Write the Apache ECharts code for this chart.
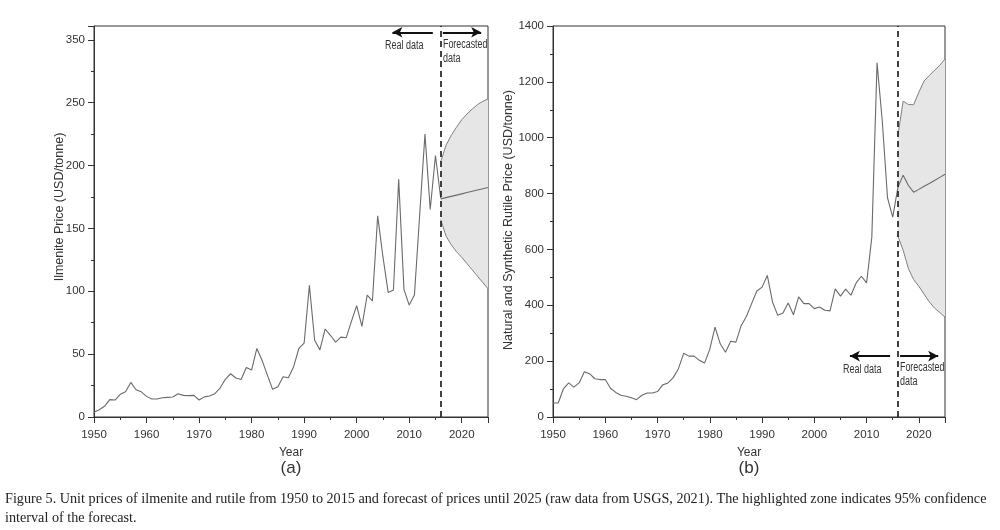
<!DOCTYPE html>
<html>
<head>
<meta charset="utf-8">
<script src="https://cdn.jsdelivr.net/npm/echarts@6/dist/echarts.min.js"></script>
<style>
html, body { margin: 0; padding: 0; background: #fff; }
#chart { width: 1000px; height: 530px; }
</style>
</head>
<body>
<div id="chart"></div>
<script>
// yearly prices (1950 .. 2016)
var firstYear = 1950;
var ilmenite = [3.7, 5.8, 8.5, 13.8, 13.5, 18, 20, 27.5, 21.7, 20,
    16.4, 14.3, 14.3, 15.3, 15.6, 15.9, 18.5, 17.2, 17, 17.2,
    13.5, 16, 16.7, 18.5, 23, 30, 34.4, 31, 29.9, 39.4,
    37.3, 54.5, 45, 33.3, 22, 24, 32, 31.2, 40, 54.5,
    58.7, 104.8, 61, 53.4, 70, 65, 59.5, 63.5, 63, 76,
    88.6, 72, 97, 92.3, 160, 127.5, 99, 101, 189, 101.5,
    89, 97, 161, 225, 165, 208, 174];
var rutile = [50, 50, 101, 122, 107, 122, 162, 155, 137, 134,
    134, 103, 88, 78, 74, 69, 62, 78, 86, 86,
    91, 115, 122, 141, 173, 228, 218, 218, 203, 193,
    243, 322, 262, 232, 271, 268, 327, 360, 406, 451,
    465, 507, 412, 364, 372, 408, 366, 430, 406, 406,
    388, 394, 382, 380, 459, 433, 458, 436, 480, 504,
    480, 644, 1268, 1060, 785, 716, 823];

// forecast with 95% band
var forecastYears = [2016, 2017, 2018, 2019, 2020, 2021, 2022, 2023, 2024, 2025];
var ilmCenter = [173.5, 174.5, 175.5, 176.5, 177.5, 178.5, 179.5, 180.5, 181.5, 182.5];
var ilmUpper  = [203, 216, 224, 230.5, 236.5, 241, 245, 248.5, 251, 253];
var ilmLower  = [157, 144, 137, 131.5, 127, 122, 117, 112, 107, 102];
var rutCenter = [823, 866, 829, 805, 815, 826, 836, 847, 858, 869];
var rutUpper  = [1010, 1131, 1119, 1118, 1163, 1203, 1223, 1241, 1259, 1282];
var rutLower  = [647, 597, 531, 492, 468, 440, 412, 390, 374, 358];

// tick labels
var yearLabels = [1950, 1960, 1970, 1980, 1990, 2000, 2010, 2020];
var ilmTicks = [0, 50, 100, 150, 200, 250, 300];
var ilmTickLabels = ['0', '50', '100', '150', '200', '250', '350']; // as printed
var rutTicks = [0, 200, 400, 600, 800, 1000, 1200, 1400];

var splitYear = 2016;
var sans = '"Liberation Sans", Arial, sans-serif';
var serif = '"Liberation Serif", "Times New Roman", serif';
var axisColor = '#333';
var lineColor = '#6a6a6a';

function histPairs(arr) {
    return arr.map(function (v, i) { return [firstYear + i, v]; });
}
function zip(xs, ys) {
    return xs.map(function (x, i) { return [x, ys[i]]; });
}

// major axis: long ticks + labels; minor axis: short ticks only
function xAxisFor(idx, minor) {
    var ax = {
        type: 'value', gridIndex: idx, position: 'bottom',
        min: 1950, max: 2025, interval: minor ? 5 : 10,
        axisLine: { show: !minor, lineStyle: { color: axisColor, width: 1 } },
        axisTick: { show: true, length: minor ? 3 : 6, lineStyle: { color: axisColor } },
        axisLabel: {
            show: !minor, color: '#333', fontSize: 11.5, fontFamily: sans, margin: 12,
            formatter: function (v) { return yearLabels.indexOf(v) >= 0 ? String(v) : ''; }
        },
        splitLine: { show: false }
    };
    if (!minor) {
        ax.name = 'Year';
        ax.nameLocation = 'middle';
        ax.nameGap = 30;
        ax.nameTextStyle = { color: '#333', fontSize: 12, fontFamily: sans };
    }
    return ax;
}

function yAxisFor(idx, max, interval, ticks, labels, minor) {
    return {
        type: 'value', gridIndex: idx, position: 'left',
        min: 0, max: max, interval: minor ? interval / 2 : interval,
        axisLine: { show: !minor, lineStyle: { color: axisColor, width: 1 } },
        axisTick: { show: true, length: minor ? 3 : 6, lineStyle: { color: axisColor } },
        axisLabel: {
            show: !minor, color: '#333', fontSize: 11.5, fontFamily: sans, margin: 9,
            formatter: function (v) {
                var k = ticks.indexOf(v);
                return k >= 0 ? labels[k] : '';
            }
        },
        splitLine: { show: false }
    };
}

function arrowLine(from, to, y) {
    return [
        { coord: [from, y], symbol: 'none' },
        { coord: [to, y], symbol: 'arrow', symbolSize: [8, 10] }
    ];
}

function chartSeries(idx, hist, center, upper, lower, yMax, arrowY) {
    return [
        {
            // confidence band polygon
            type: 'custom', xAxisIndex: idx, yAxisIndex: idx, silent: true,
            data: forecastYears.map(function (y, i) { return [y, upper[i], lower[i]]; }),
            encode: { x: 0, y: [1, 2] },
            renderItem: function (params, api) {
                if (params.dataIndexInside !== 0) return;
                var n = params.dataInsideLength;
                var top = [], bottom = [];
                for (var i = 0; i < n; i++) {
                    top.push(api.coord([api.value(0, i), api.value(1, i)]));
                    bottom.push(api.coord([api.value(0, i), api.value(2, i)]));
                }
                return {
                    type: 'polygon',
                    shape: { points: top.concat(bottom.reverse()) },
                    style: { fill: '#e6e6e6' }
                };
            }
        },
        {
            type: 'line', xAxisIndex: idx, yAxisIndex: idx,
            data: histPairs(hist), symbol: 'none',
            lineStyle: { color: lineColor, width: 1.1 }
        },
        {
            type: 'line', xAxisIndex: idx, yAxisIndex: idx,
            data: zip(forecastYears, upper), symbol: 'none',
            lineStyle: { color: '#808080', width: 1 }
        },
        {
            type: 'line', xAxisIndex: idx, yAxisIndex: idx,
            data: zip(forecastYears, lower), symbol: 'none',
            lineStyle: { color: '#808080', width: 1 }
        },
        {
            type: 'line', xAxisIndex: idx, yAxisIndex: idx,
            data: zip(forecastYears, center), symbol: 'none',
            lineStyle: { color: lineColor, width: 1.1 },
            markLine: {
                silent: true, symbol: ['none', 'none'], animation: false,
                label: { show: false },
                data: [
                    [{ xAxis: splitYear, yAxis: 0, symbol: 'none', lineStyle: { type: [6, 4], color: '#222', width: 1.7 } },
                     { xAxis: splitYear, yAxis: yMax, symbol: 'none' }],
                    arrowLine(2014.5, 2006.8, arrowY),
                    arrowLine(2016.4, 2023.7, arrowY)
                ],
                lineStyle: { color: '#111', width: 2, type: 'solid' }
            }
        }
    ];
}

function label(text, x, y, opts) {
    opts = opts || {};
    return {
        type: 'text', x: x, y: y, rotation: opts.rotation || 0, scaleX: opts.scaleX || 1, z: 100,
        style: {
            text: text, fill: opts.color || '#333',
            font: (opts.size || 11) + 'px ' + (opts.family || sans),
            align: opts.align || 'left', verticalAlign: 'middle'
        }
    };
}

var chart = echarts.init(document.getElementById('chart'));
chart.setOption({
    animation: false,
    backgroundColor: '#fff',
    grid: [
        { left: 94, top: 26, width: 394, height: 391, show: true, borderColor: axisColor, borderWidth: 1 },
        { left: 553, top: 26, width: 392, height: 391, show: true, borderColor: axisColor, borderWidth: 1 }
    ],
    xAxis: [xAxisFor(0, false), xAxisFor(1, false), xAxisFor(0, true), xAxisFor(1, true)],
    yAxis: [
        yAxisFor(0, 311, 50, ilmTicks, ilmTickLabels, false),
        yAxisFor(1, 1400, 200, rutTicks, rutTicks.map(String), false),
        yAxisFor(0, 311, 50, ilmTicks, ilmTickLabels, true),
        yAxisFor(1, 1400, 200, rutTicks, rutTicks.map(String), true)
    ],
    series: chartSeries(0, ilmenite, ilmCenter, ilmUpper, ilmLower, 311, 306)
        .concat(chartSeries(1, rutile, rutCenter, rutUpper, rutLower, 1400, 218)),
    graphic: [
        label('Ilmenite Price (USD/tonne)', 60, 207, { rotation: Math.PI / 2, align: 'center', size: 12.5 }),
        label('Natural and Synthetic Rutile Price (USD/tonne)', 509, 220, { rotation: Math.PI / 2, align: 'center', size: 12.5 }),
        label('Real data', 385, 46, { size: 12, scaleX: 0.75 }),
        label('Forecasted', 443, 45, { size: 12, scaleX: 0.74 }),
        label('data', 443, 59, { size: 12, scaleX: 0.75 }),
        label('Real data', 843, 370, { size: 12, scaleX: 0.75 }),
        label('Forecasted', 900, 368, { size: 12, scaleX: 0.74 }),
        label('data', 900, 382, { size: 12, scaleX: 0.75 }),
        label('(a)', 291, 468, { size: 17, align: 'center' }),
        label('(b)', 749, 468, { size: 17, align: 'center' }),
        label('Figure 5. Unit prices of ilmenite and rutile from 1950 to 2015 and forecast of prices until 2025 (raw data from USGS, 2021). The highlighted zone indicates 95% confidence',
            5, 499, { size: 14.2, color: '#222', family: serif }),
        label('interval of the forecast.', 5, 518, { size: 14.2, color: '#222', family: serif })
    ]
});
</script>
</body>
</html>
